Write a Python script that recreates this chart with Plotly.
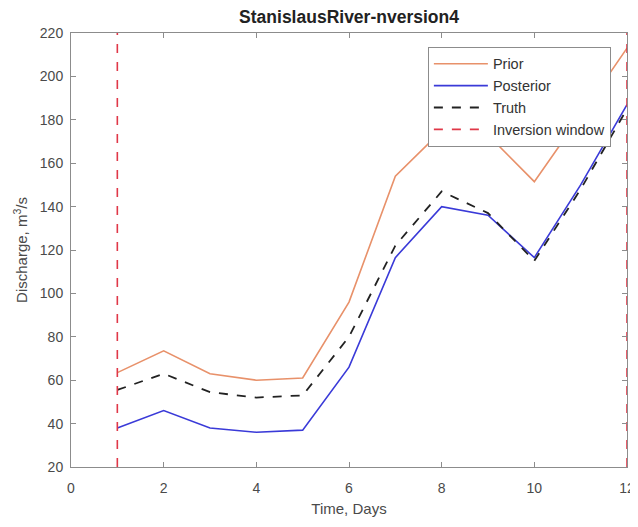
import plotly.graph_objects as go

days = [1, 2, 3, 4, 5, 6, 7, 8, 9, 10, 11, 12]
prior = [63.5, 73.5, 63, 60, 61, 96, 154, 175, 173, 151.5, 182, 213]
posterior = [38, 46, 38, 36, 37, 66, 116.5, 140, 136, 116.5, 150, 187]
truth = [55.5, 63, 54.5, 52, 53, 80, 122, 147, 137, 115, 148, 185]
window_x = [1, 12]
window_y = [20, 220]

font = "Liberation Sans, Arial, sans-serif"
fig = go.Figure()
fig.add_trace(go.Scatter(x=days, y=prior, mode="lines", name="Prior",
                         line=dict(color="#E8916A", width=1.6)))
fig.add_trace(go.Scatter(x=days, y=posterior, mode="lines", name="Posterior",
                         line=dict(color="#3A3AD8", width=1.6)))
fig.add_trace(go.Scatter(x=days, y=truth, mode="lines", name="Truth",
                         line=dict(color="#222222", width=1.8, dash="dash")))
fig.add_trace(go.Scatter(x=[window_x[0], window_x[0], None, window_x[1], window_x[1]],
                         y=[window_y[0], window_y[1], None, window_y[0], window_y[1]],
                         mode="lines", name="Inversion window",
                         line=dict(color="#E03848", width=1.6, dash="dash")))

axis_common = dict(showline=True, linecolor="#8c8c8c", linewidth=1, mirror="ticks",
                   ticks="inside", ticklen=5, tickcolor="#8c8c8c", showgrid=False,
                   zeroline=False, automargin=False, ticklabeloverflow="allow",
                   tickfont=dict(family=font, size=14, color="#4a4a4a"))
# The page body has an 8px margin, so the figure is sized to fit inside it.
fig.update_layout(
    width=630, height=511,
    paper_bgcolor="white", plot_bgcolor="white",
    margin=dict(l=63, r=11, t=25, b=52),
    title=dict(text="<b>StanislausRiver-nversion4</b>", x=0.5, xref="paper",
               xanchor="center", y=0.982, yanchor="middle",
               font=dict(family=font, size=17.5, color="#222222")),
    xaxis=dict(range=[0, 12], dtick=2, tick0=0, ticklabelstandoff=8,
               title=dict(text="Time, Days", standoff=8,
                          font=dict(family=font, size=15, color="#4a4a4a")),
               **axis_common),
    yaxis=dict(range=[20, 220], dtick=20, tick0=20, ticklabelstandoff=4,
               title=dict(text="Discharge, m<sup>3</sup>/s", standoff=8,
                          font=dict(family=font, size=15, color="#4a4a4a")),
               **axis_common),
    legend=dict(x=0.971, xanchor="right", y=0.968, yanchor="top",
                bgcolor="white", bordercolor="#8c8c8c", borderwidth=1,
                font=dict(family=font, size=14.5, color="#333333"),
                tracegroupgap=0, itemwidth=54),
    showlegend=True,
)
fig.write_html("out.html")
